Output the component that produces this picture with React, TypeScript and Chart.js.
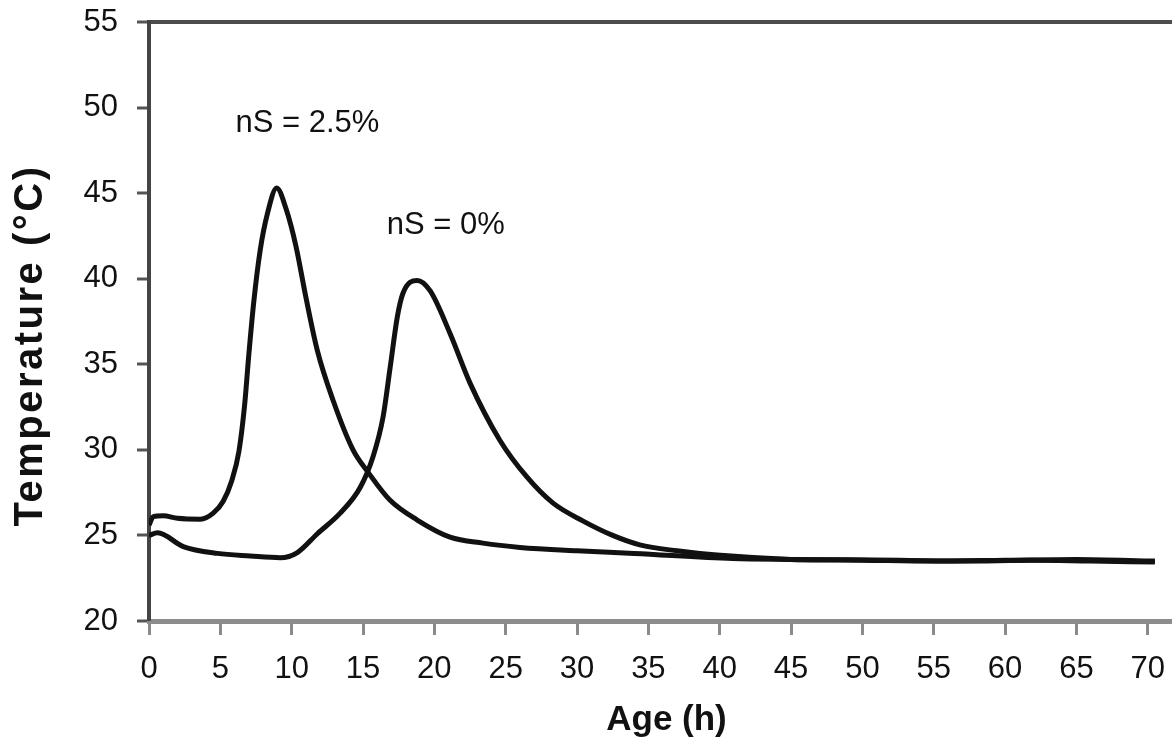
import React, { useEffect, useRef } from "react";
import { Chart, registerables } from "chart.js";

Chart.register(...registerables);

// nS = 2.5% series
const ageNs25 = [0, 0.3, 1, 2, 3.6, 4.5, 5.2, 5.8, 6.3, 6.7, 7.0, 7.35, 7.8, 8.3, 8.95, 9.6, 10.3, 11.0, 11.8, 12.9, 14.3, 15.35, 16.9, 18.8, 21.1, 23.4, 26, 30, 34, 40.9, 45, 52.6, 57, 62, 66, 70.5];
const tempNs25 = [25.6, 26.1, 26.15, 26.0, 25.95, 26.3, 27.0, 28.2, 29.9, 32.6, 35.6, 38.7, 41.7, 43.8, 45.3, 44.1, 41.9, 38.9, 35.8, 32.9, 30.0, 28.7, 27.05, 25.9, 24.9, 24.55, 24.3, 24.1, 23.95, 23.65, 23.6, 23.55, 23.5, 23.55, 23.5, 23.45];

// nS = 0% series
const ageNs0 = [0, 0.6, 2.4, 4.8, 7.1, 9.2, 10.4, 11.8, 13.4, 14.8, 15.7, 16.4, 16.9, 17.4, 17.8, 18.8, 19.7, 21.1, 22.5, 24.6, 26.5, 28.3, 30.4, 32.5, 34.4, 37, 39.8, 45, 50, 55, 60, 65, 70.5];
const tempNs0 = [25.0, 25.15, 24.35, 23.95, 23.8, 23.7, 24.0, 25.1, 26.3, 27.8, 29.6, 31.9, 34.8, 37.75, 39.15, 39.9, 39.3, 36.8, 33.9, 30.55, 28.4, 26.9, 25.85, 25.0, 24.45, 24.1, 23.85, 23.6, 23.55, 23.5, 23.55, 23.6, 23.5];

const xAxisMin = 0;
const xAxisMax = 71.7;
const xStep = 5;
const yAxisMin = 20;
const yAxisMax = 55;
const yStep = 5;

const xTitle = "Age (h)";
const yTitle = "Temperature (°C)";
const labelNs25 = "nS = 2.5%";
const labelNs25Pos = [11.1, 49.1];
const labelNs0 = "nS = 0%";
const labelNs0Pos = [20.8, 43.1];

const FONT = "'Liberation Sans', Arial, Helvetica, sans-serif";

const zeroPad = (s: any) => {
  s.paddingTop = 0;
  s.paddingBottom = 0;
  s.paddingLeft = 0;
  s.paddingRight = 0;
};

const textPlugin = {
  id: "textPlugin",
  afterDraw(chart: any) {
    const { ctx } = chart;
    const xs = chart.scales.x;
    const ys = chart.scales.y;
    ctx.save();
    ctx.fillStyle = "#111";
    ctx.font = `31px ${FONT}`;
    ctx.textAlign = "center";
    ctx.textBaseline = "middle";
    ctx.fillText(labelNs25, xs.getPixelForValue(labelNs25Pos[0]), ys.getPixelForValue(labelNs25Pos[1]));
    ctx.fillText(labelNs0, xs.getPixelForValue(labelNs0Pos[0]), ys.getPixelForValue(labelNs0Pos[1]));

    // x title
    ctx.font = `bold 35px ${FONT}`;
    ctx.textBaseline = "alphabetic";
    ctx.fillText(xTitle, (chart.chartArea.left + chart.chartArea.right) / 2 + 6, 730);

    // y title
    ctx.translate(42, (ys.top + ys.bottom) / 2 + 24);
    ctx.rotate(-Math.PI / 2);
    ctx.font = `bold 40px ${FONT}`;
    try { (ctx as any).letterSpacing = "2.5px"; } catch (e) {}
    ctx.textAlign = "center";
    ctx.fillText(yTitle, 0, 0);
    ctx.restore();
  },
};

export default function App() {
  const ref = useRef<HTMLCanvasElement | null>(null);
  useEffect(() => {
    if (!ref.current) return;
    const chart = new Chart(ref.current, {
      type: "line",
      data: {
        datasets: [
          {
            label: labelNs25,
            data: ageNs25.map((a, i) => ({ x: a, y: tempNs25[i] })),
            borderColor: "#111",
            borderWidth: 5,
            pointRadius: 0,
            fill: false,
            cubicInterpolationMode: "monotone",
          },
          {
            label: labelNs0,
            data: ageNs0.map((a, i) => ({ x: a, y: tempNs0[i] })),
            borderColor: "#111",
            borderWidth: 5,
            pointRadius: 0,
            fill: false,
            cubicInterpolationMode: "monotone",
          },
        ],
      },
      options: {
        responsive: false,
        animation: false,
        devicePixelRatio: 1,
        layout: { padding: { top: 22, right: 0, left: 0, bottom: 0 } },
        plugins: {
          legend: { display: false },
          tooltip: { enabled: false },
        },
        scales: {
          x: {
            type: "linear",
            min: xAxisMin,
            max: xAxisMax,
            afterFit: (s: any) => { s.height = 117; zeroPad(s); },
            ticks: {
              stepSize: xStep,
              includeBounds: false,
              autoSkip: false,
              maxRotation: 0,
              padding: 16,
              color: "#111",
              font: { family: FONT, size: 31 },
            },
            grid: {
              drawOnChartArea: false,
              drawTicks: true,
              tickLength: 14,
              tickColor: "#8a8a8a",
              tickWidth: 3,
            },
            border: { color: "#8c8c8c", width: 5 },
          },
          y: {
            type: "linear",
            min: yAxisMin,
            max: yAxisMax,
            afterFit: (s: any) => { s.width = 149; zeroPad(s); },
            ticks: {
              stepSize: yStep,
              includeBounds: false,
              padding: 19,
              color: "#111",
              font: { family: FONT, size: 31 },
            },
            grid: {
              drawOnChartArea: true,
              drawTicks: true,
              tickLength: 12,
              tickColor: "#555",
              tickWidth: 3,
              color: (c: any) => (c.tick && c.tick.value === yAxisMax ? "#4d4d4d" : "rgba(0,0,0,0)"),
              lineWidth: (c: any) => (c.tick && c.tick.value === yAxisMax ? 4 : 0),
            },
            border: { color: "#444", width: 4 },
          },
        },
      },
      plugins: [textPlugin],
    } as any);
    return () => chart.destroy();
  }, []);
  return (
    <div style={{ position: "fixed", left: 0, top: 0, width: 1172, height: 738, background: "#fff" }}>
      <canvas ref={ref} width={1172} height={738} style={{ width: 1172, height: 738 }} />
    </div>
  );
}
